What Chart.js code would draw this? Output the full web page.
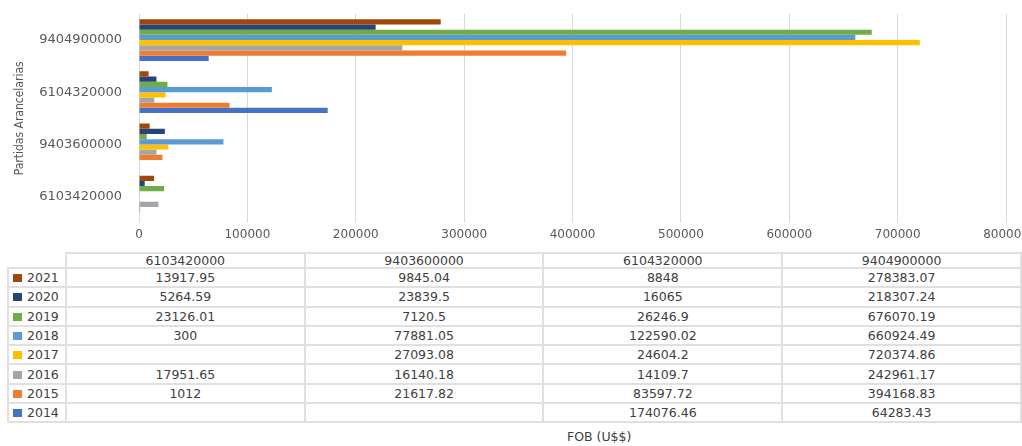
<!DOCTYPE html>
<html>
<head>
<meta charset="utf-8">
<script src="https://cdn.jsdelivr.net/npm/chart.js@4.4.1/dist/chart.umd.min.js"></script>
<style>
  body { margin: 0; background: #fff; overflow: hidden; width: 1022px; height: 446px; position: relative; }
  #graph { position: absolute; left: 0; top: 0; }
  #tbl { position: absolute; left: 7px; top: 252px; border-collapse: collapse; font-family: "DejaVu Sans", sans-serif; font-size: 12.5px; color: #404040; }
  #tbl td { border: 2px solid #e0e0e0; text-align: center; padding: 0; white-space: nowrap; }
  #tbl tr.head td { height: 13px; line-height: 12px; }
  #tbl tr.head td.blank { border-top: none; border-left: none; }
  #tbl tr.row td { height: 17.3px; }
  #tbl td.leg { width: 56px; text-align: left; }
  #tbl td.col { width: 238px; }
  .sq { display: inline-block; width: 9px; height: 8px; margin: 0 5px 0 4px; vertical-align: 0px; }
  #fob { position: absolute; left: 567px; top: 429px; font-family: "DejaVu Sans", sans-serif; font-size: 12.5px; color: #404040; }
</style>
</head>
<body>
<canvas id="graph" width="1034" height="247"></canvas>
<table id="tbl"></table>
<div id="fob">FOB (U$$)</div>
<script>
// partidas (table column order; bottom to top on the chart)
var partidas = ["6103420000", "9403600000", "6104320000", "9404900000"];

var years = ["2021", "2020", "2019", "2018", "2017", "2016", "2015", "2014"];
var colors = ["#9E480E", "#264478", "#70AD47", "#5B9BD5", "#FFC000", "#A5A5A5", "#ED7D31", "#4472C4"];

var v2021 = [13917.95, 9845.04, 8848, 278383.07];
var v2020 = [5264.59, 23839.5, 16065, 218307.24];
var v2019 = [23126.01, 7120.5, 26246.9, 676070.19];
var v2018 = [300, 77881.05, 122590.02, 660924.49];
var v2017 = [null, 27093.08, 24604.2, 720374.86];
var v2016 = [17951.65, 16140.18, 14109.7, 242961.17];
var v2015 = [1012, 21617.82, 83597.72, 394168.83];
var v2014 = [null, null, 174076.46, 64283.43];

var xTicks = [0, 100000, 200000, 300000, 400000, 500000, 600000, 700000, 800000];

var series = [v2021, v2020, v2019, v2018, v2017, v2016, v2015, v2014];

var datasets = [];
for (var i = 0; i < years.length; i++) {
	datasets.push({
		label: years[i],
		data: series[i],
		backgroundColor: colors[i],
		borderWidth: 0,
		categoryPercentage: 0.8,
		barPercentage: 1
	});
}

var ctx = document.getElementById("graph").getContext("2d");
var chart = new Chart(ctx, {
	type: "bar",
	data: { labels: partidas, datasets: datasets },
	options: {
		indexAxis: "y",
		responsive: false,
		animation: false,
		layout: { padding: { top: 14, left: 0, right: 0, bottom: 0 } },
		plugins: { legend: { display: false }, tooltip: { enabled: false } },
		scales: {
			x: {
				min: 0,
				max: 800000,
				afterBuildTicks: function(s) { s.ticks = xTicks.map(function(v) { return { value: v }; }); },
				ticks: {
					padding: 5,
					color: "#595959",
					font: { family: "DejaVu Sans", size: 12 },
					callback: function(v) { return String(v); }
				},
				grid: { color: "#d9d9d9", drawTicks: false },
				border: { display: false }
			},
			y: {
				reverse: true,
				afterFit: function(s) { s.width = 139; s.paddingTop = 0; s.paddingBottom = 0; },
				ticks: {
					padding: 17,
					color: "#595959",
					font: { family: "DejaVu Sans", size: 13 }
				},
				grid: { display: false, drawTicks: false },
				border: { color: "#d9d9d9" },
				title: {
					display: true,
					text: "Partidas Arancelarias",
					color: "#595959",
					font: { family: "DejaVu Sans Condensed", size: 12 },
					padding: { top: 13, bottom: 0 }
				}
			}
		}
	}
});

// data table under the chart
var tbl = document.getElementById("tbl");
var html = '<tr class="head"><td class="leg blank"></td>';
for (var c = 0; c < partidas.length; c++) {
	html += '<td class="col">' + partidas[c] + '</td>';
}
html += '</tr>';
for (var r = 0; r < years.length; r++) {
	html += '<tr class="row"><td class="leg"><span class="sq" style="background:' + colors[r] + '"></span>' + years[r] + '</td>';
	for (var c = 0; c < partidas.length; c++) {
		var v = series[r][c];
		html += '<td class="col">' + (v === null ? '' : String(v)) + '</td>';
	}
	html += '</tr>';
}
tbl.innerHTML = html;
</script>
</body>
</html>
